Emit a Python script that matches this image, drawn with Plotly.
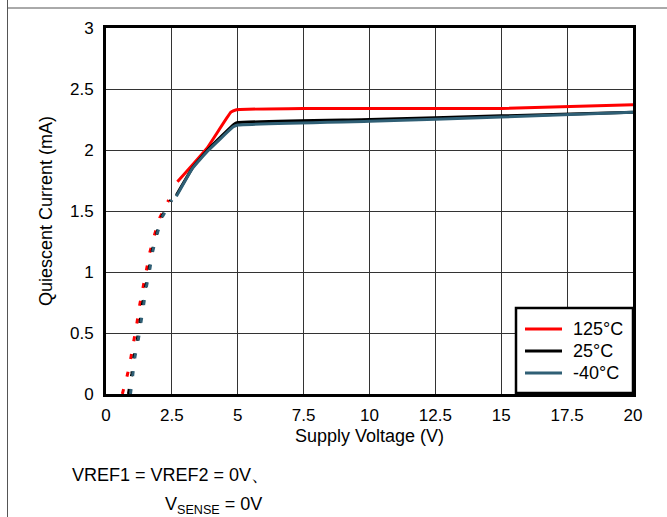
import plotly.graph_objects as go

# ---- data ----
# solid portions (V, mA)
v_125 = [2.71, 3.85, 4.74, 4.95, 7.5, 10, 15, 20]
i_125 = [1.74, 2.02, 2.31, 2.33, 2.34, 2.34, 2.34, 2.37]
v_25 = [2.67, 3.3, 3.9, 4.85, 5.0, 10, 15, 20]
i_25 = [1.63, 1.86, 2.01, 2.21, 2.225, 2.25, 2.28, 2.31]
v_m40 = [2.67, 3.28, 3.85, 4.83, 5.0, 10, 15, 20]
i_m40 = [1.62, 1.85, 1.99, 2.19, 2.205, 2.235, 2.27, 2.31]

# dotted (low-voltage) portions
vd_125 = [0.62, 0.82, 0.95, 1.07, 1.18, 1.28, 1.40, 1.53, 1.66, 1.84, 2.04, 2.38]
id_125 = [0.0, 0.164, 0.306, 0.448, 0.59, 0.732, 0.875, 1.016, 1.158, 1.303, 1.445, 1.59]
vd_25 = [0.85, 0.98, 1.06, 1.19, 1.29, 1.38, 1.50, 1.63, 1.73, 1.90, 2.09, 2.46]
id_25 = [0.0, 0.164, 0.306, 0.448, 0.59, 0.732, 0.875, 1.016, 1.158, 1.303, 1.445, 1.59]
vd_m40 = [0.93, 1.03, 1.10, 1.23, 1.33, 1.41, 1.53, 1.66, 1.76, 1.93, 2.12, 2.50]
id_m40 = [0.0, 0.164, 0.306, 0.448, 0.59, 0.732, 0.875, 1.016, 1.158, 1.303, 1.445, 1.59]

names = ["125°C", "25°C", "-40°C"]
colors = ["#FF0000", "#000000", "#2F5F75"]

FONT = "Liberation Sans, Arial, sans-serif"

fig = go.Figure()

dotted = [(vd_125, id_125), (vd_25, id_25), (vd_m40, id_m40)]
solid = [(v_125, i_125), (v_25, i_25), (v_m40, i_m40)]

for (x, y), c in zip(dotted, colors):
    fig.add_trace(go.Scatter(x=x, y=y, mode="lines", showlegend=False,
                             line=dict(color=c, width=3, dash="5px,13px"),
                             hoverinfo="skip"))

for (x, y), c, n in zip(solid, colors, names):
    fig.add_trace(go.Scatter(x=x, y=y, mode="lines", name=n, showlegend=False,
                             line=dict(color=c, width=3, shape="spline", smoothing=0.3)))

L, R, T, B = 106, 34, 28, 123
W, H = 667, 517
pw = W - L - R
ph = H - T - B

def px_x(px):
    return (px - L) / pw

def px_y(py):
    return (H - B - py) / ph

# custom legend (box, samples, labels) in pixel positions
leg_rows = [329, 351, 373]
shapes = [
    dict(type="line", xref="paper", yref="paper",
         x0=px_x(7.5), x1=px_x(7.5), y0=px_y(0), y1=px_y(517),
         line=dict(color="#555555", width=1)),
    dict(type="line", xref="paper", yref="paper",
         x0=px_x(7), x1=px_x(667), y0=px_y(8), y1=px_y(8),
         line=dict(color="#555555", width=1)),
    dict(type="rect", xref="paper", yref="paper",
         x0=px_x(516), x1=px_x(633), y0=px_y(393), y1=px_y(308),
         fillcolor="white", line=dict(color="black", width=2.5)),
]
annotations = [
    dict(text="VREF1 = VREF2 = 0V、", xref="paper", yref="paper",
         x=px_x(70), y=px_y(475), xanchor="left", yanchor="middle",
         showarrow=False, font=dict(size=18)),
    dict(text="V<sub>SENSE</sub> = 0V", xref="paper", yref="paper",
         x=px_x(163), y=px_y(505), xanchor="left", yanchor="middle",
         showarrow=False, font=dict(size=18)),
]
for yy, c, n in zip(leg_rows, colors, names):
    shapes.append(dict(type="line", xref="paper", yref="paper",
                       x0=px_x(525), x1=px_x(562), y0=px_y(yy), y1=px_y(yy),
                       line=dict(color=c, width=3)))
    annotations.append(dict(text=n, xref="paper", yref="paper",
                            x=px_x(571), y=px_y(yy), xanchor="left", yanchor="middle",
                            showarrow=False, font=dict(size=18)))

fig.update_layout(
    width=W, height=H,
    margin=dict(l=L, r=R, t=T, b=B, autoexpand=False),
    paper_bgcolor="white", plot_bgcolor="white",
    font=dict(family=FONT, size=17, color="black"),
    showlegend=False,
    xaxis=dict(range=[0, 20], dtick=2.5, tick0=0,
               showgrid=True, gridcolor="#333333", gridwidth=1,
               showline=True, linecolor="black", linewidth=3, mirror=True,
               zeroline=False, ticks="", ticklabelstandoff=4,
               tickfont=dict(size=17),
               title=dict(text="Supply Voltage (V)", standoff=5,
                          font=dict(size=18))),
    yaxis=dict(range=[0, 3], dtick=0.5, tick0=0,
               showgrid=True, gridcolor="#333333", gridwidth=1,
               showline=True, linecolor="black", linewidth=3, mirror=True,
               zeroline=False, ticks="", ticklabelstandoff=6,
               tickfont=dict(size=17),
               title=dict(text="Quiescent Current (mA)", standoff=13,
                          font=dict(size=18))),
    annotations=annotations,
    shapes=shapes,
)

fig.write_html("out.html", config={"displayModeBar": False},
               post_script="document.body.style.margin='0';document.body.style.padding='0';document.body.style.overflow='hidden';")
